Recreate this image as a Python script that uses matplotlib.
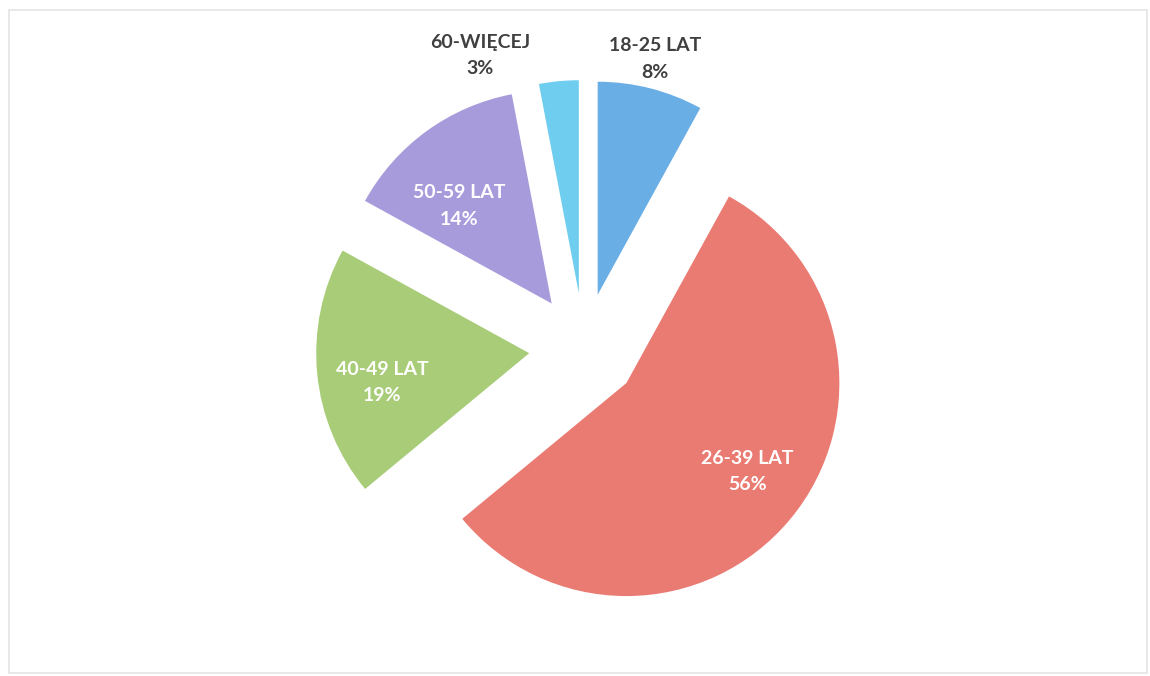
import math
import matplotlib
matplotlib.use("Agg")
import matplotlib.pyplot as plt
from matplotlib.patches import Rectangle

categories = ["18-25 LAT", "26-39 LAT", "40-49 LAT", "50-59 LAT", "60-WIĘCEJ"]
values = [8, 56, 19, 14, 3]
colors = ["#6aaee6", "#ea7b73", "#a8cc78", "#a89bdb", "#6fcdf0"]
label_colors = ["#404040", "white", "white", "white", "#404040"]

plt.rcParams['font.family'] = ['Lato', 'DejaVu Sans']

W, H = 1150, 676
fig = plt.figure(figsize=(W / 100, H / 100), dpi=100)
ax = fig.add_axes([0, 0, 1, 1])
ax.set_xlim(0, W)
ax.set_ylim(0, H)
ax.set_aspect('equal')
ax.axis('off')

ax.add_patch(Rectangle((9, 3), W - 12, H - 13, fill=False, edgecolor="#e4e4e4", lw=1.2))

radius = 213
center = (584, H - 348)
explode = [55] * len(values)
wedges, _ = ax.pie(values, colors=colors, startangle=90, counterclock=False,
                   radius=radius, center=center, explode=explode,
                   wedgeprops=dict(linewidth=0))
ax.set_xlim(0, W)
ax.set_ylim(0, H)

# label placement: distance factor (relative to radius) and CCW angle shift (deg)
dist = [1.16, 0.69, 0.70, 0.65, 1.23]
shift = [1, 5, 4, 6, 16.7]
for w, cat, v, lc, d, s in zip(wedges, categories, values, label_colors, dist, shift):
    cx, cy = w.center
    th = math.radians((w.theta1 + w.theta2) / 2 + s)
    x = cx + d * w.r * math.cos(th)
    y = cy + d * w.r * math.sin(th) - 5
    ax.text(x, y, f"{cat}\n{v}%", ha='center', va='center', color=lc,
            fontsize=14, fontweight='bold', linespacing=1.7)

fig.savefig("out.png", dpi=100, facecolor="white")
